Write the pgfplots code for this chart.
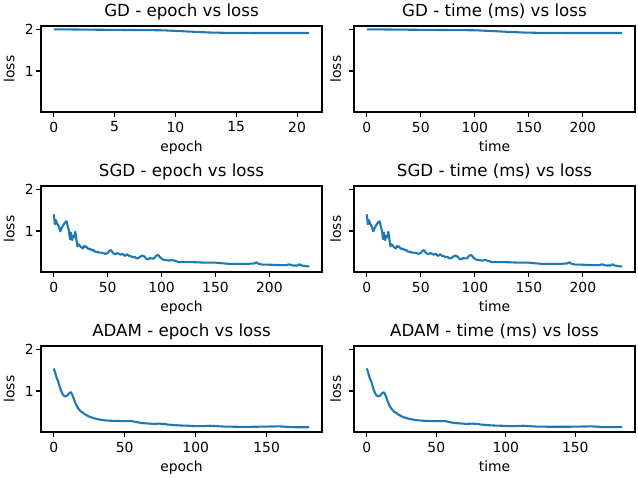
\documentclass[border=0pt]{standalone}
\usepackage{fontspec}
\setmainfont{DejaVu Sans}
\usepackage{pgfplots}
\pgfplotsset{compat=1.18}
\usepackage{pgfplotstable}
\definecolor{mplblue}{HTML}{1F77B4}

% Loss curves of three optimizers, against epoch and wall time
\pgfplotstableread{
epoch time loss
0 0.0 2.000
1 11.3 1.998
2 22.5 1.995
3 33.8 1.992
4 45.1 1.989
5 56.3 1.986
6 67.6 1.984
7 78.8 1.982
8 90.1 1.980
9 101.4 1.976
10 112.6 1.962
11 123.9 1.948
12 135.1 1.934
13 146.4 1.922
14 157.7 1.916
15 168.9 1.914
16 180.2 1.913
17 191.5 1.912
18 202.7 1.912
19 214.0 1.911
20 225.2 1.911
21 236.5 1.911
}\gdtable

\pgfplotstableread{
epoch time loss
0 0.0 1.40
1 1.0 1.16
2 2.0 1.26
3 3.0 1.18
4 4.0 1.14
5 5.0 1.08
6 6.0 0.99
7 7.0 1.05
8 8.0 1.10
9 9.0 1.15
10 10.0 1.19
11 11.0 1.22
12 12.0 1.23
13 13.0 1.10
14 14.0 1.02
15 15.0 0.80
16 16.0 0.96
17 17.0 0.78
18 18.0 0.88
19 19.0 0.85
20 20.0 0.98
21 20.9 0.80
22 21.9 0.63
23 22.9 0.68
24 23.9 0.65
25 24.9 0.62
26 25.9 0.60
27 26.9 0.58
28 27.9 0.64
29 28.9 0.61
30 29.9 0.63
31 30.9 0.59
32 31.9 0.57
33 32.9 0.58
34 33.9 0.55
35 34.9 0.56
36 35.9 0.53
37 36.9 0.54
38 37.9 0.51
40 39.9 0.49
41 40.9 0.50
42 41.9 0.48
44 43.9 0.48
46 45.9 0.47
48 47.9 0.45
50 49.9 0.47
52 51.9 0.53
53 52.9 0.54
55 54.9 0.47
57 56.9 0.44
59 58.9 0.47
60 59.9 0.46
62 61.8 0.43
64 63.8 0.45
66 65.8 0.40
68 67.8 0.44
70 69.8 0.40
72 71.8 0.39
73 72.8 0.37
75 74.8 0.38
76 75.8 0.35
78 77.8 0.34
80 79.8 0.38
82 81.8 0.41
84 83.8 0.39
86 85.8 0.33
88 87.8 0.32
89 88.8 0.35
91 90.8 0.34
93 92.8 0.34
95 94.8 0.41
97 96.8 0.42
99 98.8 0.36
101 100.7 0.32
102 101.7 0.31
104 103.7 0.30
107 106.7 0.29
110 109.7 0.30
113 112.7 0.28
116 115.7 0.25
120 119.7 0.25
130 129.7 0.25
140 139.7 0.24
150 149.6 0.24
158 157.6 0.22
163 162.6 0.21
170 169.6 0.21
180 179.6 0.21
186 185.5 0.22
188 187.5 0.25
190 189.5 0.21
194 193.5 0.19
200 199.5 0.19
210 209.5 0.18
216 215.5 0.18
218 217.5 0.20
222 221.4 0.17
226 225.4 0.17
228 227.4 0.20
230 229.4 0.17
237 236.4 0.145
}\sgdtable

\pgfplotstableread{
epoch time loss
0 0.0 1.54
1 1.0 1.44
2 2.0 1.32
3 3.1 1.24
4 4.1 1.12
5 5.1 1.02
6 6.1 0.94
7 7.1 0.89
8 8.2 0.87
9 9.2 0.88
10 10.2 0.91
11 11.2 0.95
12 12.3 0.97
13 13.3 0.91
14 14.3 0.82
15 15.3 0.73
16 16.3 0.65
17 17.4 0.59
18 18.4 0.55
19 19.4 0.51
20 20.4 0.49
22 22.5 0.44
24 24.5 0.40
26 26.5 0.37
28 28.6 0.35
30 30.6 0.33
33 33.7 0.31
36 36.8 0.295
40 40.8 0.285
45 45.9 0.28
50 51.1 0.275
54 55.1 0.28
56 57.2 0.27
58 59.2 0.255
62 63.3 0.23
66 67.4 0.22
70 71.5 0.21
74 75.6 0.215
78 79.6 0.21
80 81.7 0.195
85 86.8 0.18
90 91.9 0.17
95 97.0 0.165
100 102.1 0.155
105 107.2 0.155
110 112.3 0.165
115 117.4 0.155
120 122.5 0.145
130 132.7 0.14
140 142.9 0.14
150 153.2 0.145
158 161.3 0.15
162 165.4 0.145
165 168.5 0.135
170 173.6 0.13
175 178.7 0.13
180 183.8 0.13
}\adamtable

\pgfplotsset{
  lossline/.style={mplblue, line width=1.5pt, line join=round, mark=none},
  lossax/.style={
    scale only axis, width=202.32pt, height=61.92pt,
    anchor=south west,
    axis line style={line width=0.8pt, black},
    every tick/.style={line width=0.8pt, black},
    tick align=outside, major tick length=3.5pt,
    tick pos=left,
    ymin=0.015, ymax=2.08, ytick={1,2},
    /pgf/number format/assume math mode=true,
    tick label style={font=\fontsize{10}{12}\selectfont},
    yticklabel style={xshift=1.8pt},
    title style={font=\fontsize{12}{14}\selectfont, at={(0.5,1)}, anchor=base, yshift=0.7pt},
    xlabel style={font=\fontsize{10}{12}\selectfont, at={(axis description cs:0.5,0)}, anchor=base, yshift=-28.6pt},
    ylabel={loss},
  },
  leftcol/.style={lossax, ylabel style={font=\fontsize{10}{12}\selectfont, at={([xshift=-22.9pt]axis description cs:0,0.5)}, anchor=center}},
  rightcol/.style={lossax, yticklabels={}, ylabel style={font=\fontsize{10}{12}\selectfont, at={([xshift=-13.1pt]axis description cs:0,0.5)}, anchor=center}},
}

\begin{document}
\begin{tikzpicture}
\useasboundingbox (0,0) rectangle (459.36pt,344.16pt);

% GD
\begin{axis}[leftcol, at={(29.52pt,263.52pt)},
  title={GD - epoch vs loss}, xlabel={epoch},
  xmin=-1.05, xmax=22.05, xtick={0,5,10,15,20}]
  \addplot[lossline] table[x=epoch, y=loss] {\gdtable};
\end{axis}
\begin{axis}[rightcol, at={(254.88pt,263.52pt)},
  title={GD - time (ms) vs loss}, xlabel={time},
  xmin=-11.83, xmax=248.33, xtick={0,50,100,150,200}]
  \addplot[lossline] table[x=time, y=loss] {\gdtable};
\end{axis}

% SGD
\begin{axis}[leftcol, at={(29.52pt,148.32pt)},
  title={SGD - epoch vs loss}, xlabel={epoch},
  xmin=-11.85, xmax=248.85, xtick={0,50,100,150,200}]
  \addplot[lossline] table[x=epoch, y=loss] {\sgdtable};
\end{axis}
\begin{axis}[rightcol, at={(254.88pt,148.32pt)},
  title={SGD - time (ms) vs loss}, xlabel={time},
  xmin=-11.82, xmax=248.22, xtick={0,50,100,150,200}]
  \addplot[lossline] table[x=time, y=loss] {\sgdtable};
\end{axis}

% ADAM
\begin{axis}[leftcol, at={(29.52pt,33.12pt)},
  title={ADAM - epoch vs loss}, xlabel={epoch},
  xmin=-9, xmax=189, xtick={0,50,100,150}]
  \addplot[lossline] table[x=epoch, y=loss] {\adamtable};
\end{axis}
\begin{axis}[rightcol, at={(254.88pt,33.12pt)},
  title={ADAM - time (ms) vs loss}, xlabel={time},
  xmin=-9.19, xmax=192.99, xtick={0,50,100,150}]
  \addplot[lossline] table[x=time, y=loss] {\adamtable};
\end{axis}
\end{tikzpicture}
\end{document}
